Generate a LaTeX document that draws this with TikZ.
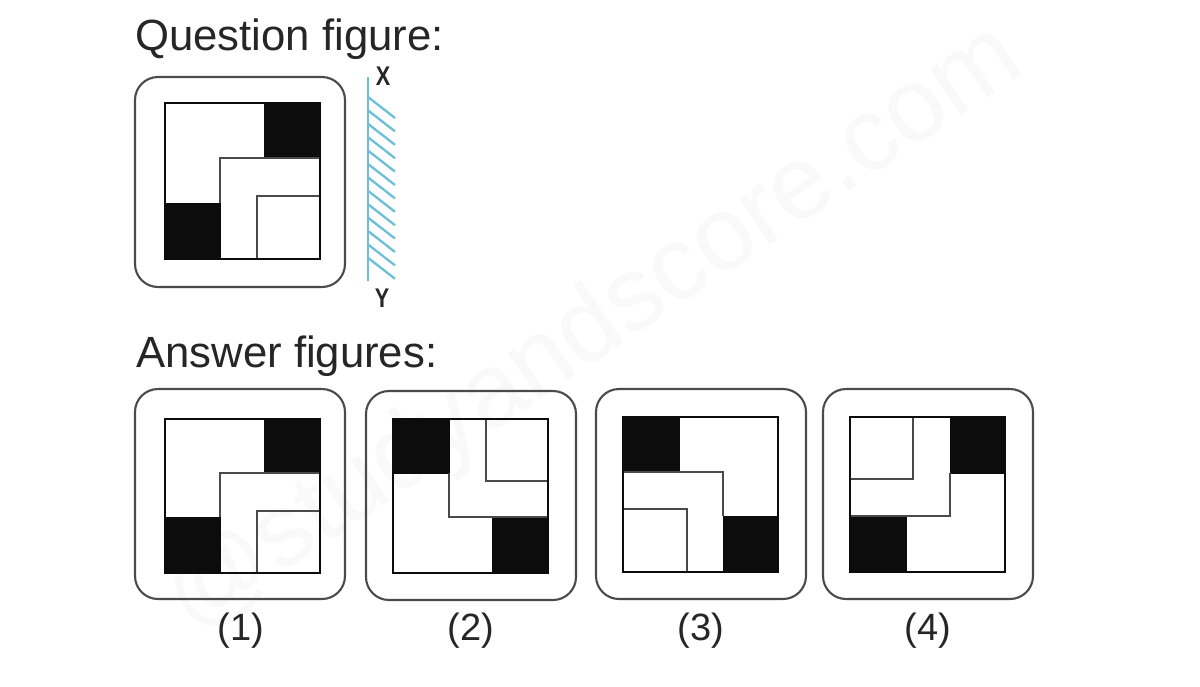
\documentclass[tikz,border=0pt]{standalone}
\usepackage{fontspec}
\usepackage{graphicx}
\setmainfont{Liberation Sans}
\definecolor{mirror}{HTML}{6CBFD6}
\definecolor{ink}{HTML}{0C0C0C}
\definecolor{framec}{HTML}{4A4A4A}
\definecolor{wmark}{HTML}{F9F9F9}
\tikzset{
  frame/.style={draw=framec,line width=2.1pt,rounded corners=23pt},
  grid/.style={draw=ink,line width=1.8pt,line cap=rect},
  inner/.style={draw=framec,line width=2.3pt},
  blk/.style={fill=ink,draw=ink,line width=0.8pt},
  head/.style={anchor=base west,font=\fontsize{43.7}{46}\selectfont,text=black!85,inner sep=0pt},
  num/.style={anchor=base,font=\fontsize{38}{42}\selectfont,text=black!85,inner sep=0pt},
  axis/.style={anchor=center,font=\bfseries\fontsize{27}{30}\selectfont,text=black!85,inner sep=0pt},
  glass/.style={draw=mirror,line width=2.6pt},
  hatch/.style={draw=mirror,line width=2.3pt},
}
\begin{document}
\begin{tikzpicture}[x=1pt,y=-1pt]
\useasboundingbox (0,0) rectangle (1200,686);
\fill[white] (0,0) rectangle (1200,686);
\node[rotate=34,text=wmark,font=\fontsize{104}{110}\selectfont,inner sep=0pt] (wm) at (595,330) {@studyandscore.com};
% question figure
\node[head] (qt) at (135,50) {Question figure:};
\draw[frame] (135,77) rectangle (345,287);
\fill[blk] (264,103) rectangle (320,158);
\fill[blk] (165,203) rectangle (220,259);
\draw[inner] (220,203) -- (220,158) -- (320,158);
\draw[inner] (257,259) -- (257,196) -- (320,196);
\draw[grid] (165,103) rectangle (320,259);
% mirror
\draw[glass] (368,77) -- (368,281);
\foreach \y in {97,110.4,123.8,137.2,150.6,164,177.4,190.8,204.2,217.6,231,244.4,257.8}
  \draw[hatch] (368,\y) -- (395,\y+21);
\node[axis] (xl) at (383,76) {\scalebox{.8}[1]{X}};
\node[axis] (yl) at (382,298) {\scalebox{.8}[1]{Y}};
% answers
\node[head] (at) at (136,367) {Answer figures:};
% 1
\draw[frame] (135,389) rectangle (345,599);
\fill[blk] (264,419) rectangle (320,473);
\fill[blk] (165,517) rectangle (220,573);
\draw[inner] (220,517) -- (220,473) -- (320,473);
\draw[inner] (257,573) -- (257,511) -- (320,511);
\draw[grid] (165,419) rectangle (320,573);
% 2
\draw[frame] (366,391) rectangle (576,600);
\fill[blk] (393,419) rectangle (449,473);
\fill[blk] (492,518) rectangle (548,573);
\draw[inner] (449,473) -- (449,517) -- (548,517);
\draw[inner] (486,419) -- (486,481) -- (548,481);
\draw[grid] (393,419) rectangle (548,573);
% 3
\draw[frame] (596,389) rectangle (806,599);
\fill[blk] (623,417) rectangle (679,472);
\fill[blk] (723,516) rectangle (778,572);
\draw[inner] (623,472) -- (723,472) -- (723,516);
\draw[inner] (623,509) -- (687,509) -- (687,572);
\draw[grid] (623,417) rectangle (778,572);
% 4
\draw[frame] (823,389) rectangle (1033,599);
\fill[blk] (950,417) rectangle (1005,473);
\fill[blk] (850,516) rectangle (906,572);
\draw[inner] (950,473) -- (950,516) -- (850,516);
\draw[inner] (913,417) -- (913,479) -- (850,479);
\draw[grid] (850,417) rectangle (1005,572);
% labels
\node[num] (n1) at (241,640) {(1)};
\node[num] (n2) at (471,640) {(2)};
\node[num] (n3) at (701,640) {(3)};
\node[num] (n4) at (928,640) {(4)};
\end{tikzpicture}
\end{document}
